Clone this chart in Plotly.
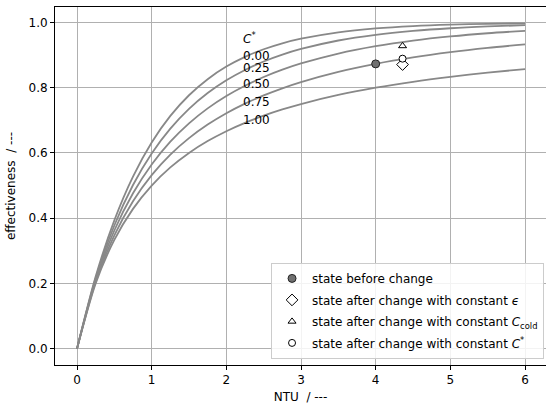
import plotly.graph_objects as go

# NTU grid and effectiveness values (counterflow curves)
ntu = [0, 0.25, 0.5, 0.75, 1.0, 1.25, 1.5, 1.75, 2.0, 2.25, 2.5, 2.75, 3.0, 3.5, 4.0, 4.5, 5.0, 5.5, 6.0]
c_star_labels = ["0.00", "0.25", "0.50", "0.75", "1.00"]
eps_c000 = [0, 0.2212, 0.3935, 0.5276, 0.6321, 0.7135, 0.7769, 0.8262, 0.8647, 0.8946, 0.9179, 0.9361, 0.9502, 0.9698, 0.9817, 0.9889, 0.9933, 0.9959, 0.9975]
eps_c025 = [0, 0.2157, 0.3776, 0.5017, 0.5983, 0.6744, 0.7350, 0.7836, 0.8228, 0.8545, 0.8804, 0.9015, 0.9188, 0.9447, 0.9622, 0.9741, 0.9823, 0.9878, 0.9916]
eps_c050 = [0, 0.2103, 0.3623, 0.4764, 0.5647, 0.6346, 0.6908, 0.7367, 0.7746, 0.8062, 0.8328, 0.8553, 0.8744, 0.9048, 0.9274, 0.9444, 0.9572, 0.9670, 0.9745]
eps_c075 = [0, 0.2051, 0.3475, 0.4520, 0.5319, 0.5947, 0.6454, 0.6870, 0.7218, 0.7513, 0.7764, 0.7982, 0.8171, 0.8484, 0.8730, 0.8927, 0.9088, 0.9220, 0.9330]
eps_c100 = [0, 0.2000, 0.3333, 0.4286, 0.5000, 0.5556, 0.6000, 0.6364, 0.6667, 0.6923, 0.7143, 0.7333, 0.7500, 0.7778, 0.8000, 0.8182, 0.8333, 0.8462, 0.8571]
curves = [eps_c000, eps_c025, eps_c050, eps_c075, eps_c100]
label_y = [0.897, 0.860, 0.8125, 0.756, 0.700]

# state points
before_ntu = [4.0]
before_eps = [0.873]
const_eps_ntu = [4.36]
const_eps_eps = [0.871]
const_ccold_ntu = [4.36]
const_ccold_eps = [0.928]
const_cstar_ntu = [4.36]
const_cstar_eps = [0.889]

FONT = "DejaVu Sans"
fig = go.Figure()
for eps in curves:
    fig.add_trace(go.Scatter(x=ntu, y=eps, mode="lines", line=dict(color="#888888", width=1.8, shape="spline", smoothing=0.8),
                             showlegend=False, hoverinfo="skip"))

fig.add_trace(go.Scatter(x=before_ntu, y=before_eps, mode="markers", name="state before change", legendgroup="a",
                         marker=dict(symbol="circle", size=8, color="#707070", line=dict(color="#222222", width=1))))
fig.add_trace(go.Scatter(x=const_eps_ntu, y=const_eps_eps, mode="markers", name="state after change with constant <i>ϵ</i>",
                         legendgroup="b",
                         marker=dict(symbol="diamond", size=9, color="white", line=dict(color="black", width=1))))
fig.add_trace(go.Scatter(x=const_ccold_ntu, y=const_ccold_eps, mode="markers", legendgroup="c",
                         name="state after change with constant <i>C</i><sub>cold</sub>",
                         marker=dict(symbol="triangle-up", size=7, color="white", line=dict(color="black", width=1))))
fig.add_trace(go.Scatter(x=const_cstar_ntu, y=const_cstar_eps, mode="markers", legendgroup="d",
                         name="state after change with constant <i>C</i><sup>*</sup>",
                         marker=dict(symbol="circle", size=7, color="white", line=dict(color="black", width=1))))

annotations = [dict(x=2.2, y=0.952, xref="x", yref="y", text="<i>C</i><sup>*</sup>", showarrow=False,
                    xanchor="left", yanchor="middle", font=dict(family=FONT, size=12, color="black"))]
for lab, yy in zip(c_star_labels, label_y):
    annotations.append(dict(x=2.2, y=yy, xref="x", yref="y", text=lab, showarrow=False,
                            xanchor="left", yanchor="middle", font=dict(family=FONT, size=12, color="black")))

fig.update_layout(
    width=546, height=410,
    margin=dict(l=55, r=0, t=7, b=45, autoexpand=False),
    paper_bgcolor="white", plot_bgcolor="white",
    font=dict(family=FONT, size=12, color="black"),
    annotations=annotations,
    legend=dict(x=0.996, y=0.017, xanchor="right", yanchor="bottom",
                traceorder="grouped", tracegroupgap=2.5,
                bgcolor="rgba(255,255,255,0.85)", bordercolor="#cccccc", borderwidth=1,
                font=dict(family=FONT, size=12, color="black")),
    xaxis=dict(range=[-0.2946, 6.281], tickmode="array", tickvals=[0, 1, 2, 3, 4, 5, 6], automargin=False,
               showgrid=True, gridcolor="#b0b0b0", gridwidth=1, zeroline=False,
               showline=True, linecolor="black", linewidth=1, mirror=True,
               ticks="outside", ticklen=4, tickcolor="black",
               title=dict(text="NTU\u00a0\u00a0/ ---", font=dict(size=12), standoff=6)),
    yaxis=dict(range=[-0.05, 1.0474], tickmode="array", tickvals=[0, 0.2, 0.4, 0.6, 0.8, 1.0], automargin=False,
               ticktext=["0.0", "0.2", "0.4", "0.6", "0.8", "1.0"],
               showgrid=True, gridcolor="#b0b0b0", gridwidth=1, zeroline=False,
               showline=True, linecolor="black", linewidth=1,
               ticks="outside", ticklen=4, tickcolor="black",
               title=dict(text="effectiveness\u00a0\u00a0/ ---", font=dict(size=12), standoff=10)),
)
fig.write_html("out.html", config={"displayModeBar": False}, post_script="document.body.style.margin='0';")
